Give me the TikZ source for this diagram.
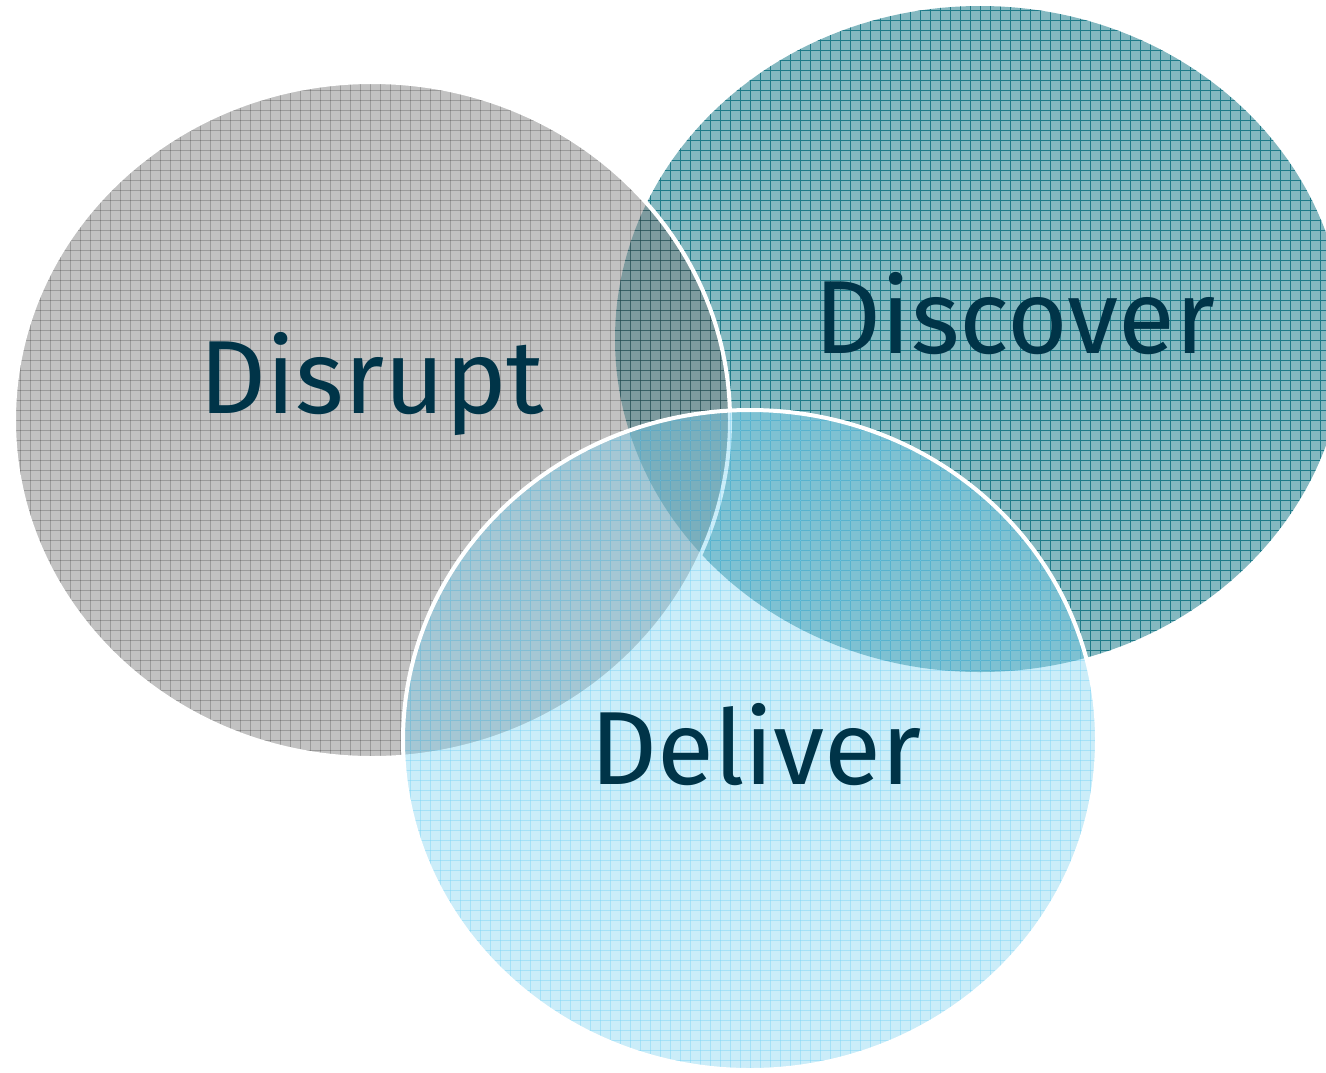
\documentclass[tikz,border=0pt]{standalone}
\usepackage{fontspec}
\setmainfont{Fira Sans}
\definecolor{discoverfill}{RGB}{132,184,192}
\definecolor{discoverline}{RGB}{30,122,136}
\definecolor{disruptfill}{RGB}{120,120,120}
\definecolor{deliverfill}{RGB}{118,208,240}
\definecolor{deliverline}{RGB}{120,210,245}
\definecolor{labelnavy}{RGB}{0,52,72}

\begin{document}
\begin{tikzpicture}[x=0.5pt, y=-0.5pt,
        lbl/.style={text=labelnavy, font=\fontsize{52}{62}\selectfont, anchor=base, inner sep=0pt}]

    \useasboundingbox (0,0) rectangle (1326,1072);
    \clip (0,0) rectangle (1326,1072);

    \coordinate (Dis) at (980,339);
    \coordinate (Dsr) at (372,420);
    \coordinate (Del) at (750,740);

    \fill[discoverfill] (Dis) ellipse [x radius=365, y radius=333];
    \begin{scope}
        \clip (Dis) ellipse [x radius=365, y radius=333];
        \foreach \gx in {610,620,...,1350} \draw[discoverline, line width=0.35pt] (\gx,0) -- (\gx,680);
        \foreach \gy in {0,10,...,680} \draw[discoverline, line width=0.35pt] (610,\gy) -- (1350,\gy);
    \end{scope}

    \fill[disruptfill, fill opacity=0.45] (Dsr) ellipse [x radius=358, y radius=338];
    \begin{scope}
        \clip (Dsr) ellipse [x radius=358, y radius=338];
        \foreach \gx in {10,20,...,740} \draw[black, draw opacity=0.2, line width=0.4pt] (\gx,80) -- (\gx,760);
        \foreach \gy in {80,90,...,760} \draw[black, draw opacity=0.2, line width=0.4pt] (10,\gy) -- (740,\gy);
    \end{scope}
    \draw[white, line width=2pt] (Dsr) ellipse [x radius=358, y radius=338];

    \fill[deliverfill, fill opacity=0.38] (Del) ellipse [x radius=347, y radius=330];
    \begin{scope}
        \clip (Del) ellipse [x radius=347, y radius=330];
        \foreach \gx in {400,410,...,1100} \draw[deliverline, draw opacity=0.45, line width=0.4pt] (\gx,405) -- (\gx,1072);
        \foreach \gy in {410,420,...,1070} \draw[deliverline, draw opacity=0.45, line width=0.4pt] (400,\gy) -- (1100,\gy);
    \end{scope}
    \draw[white, line width=2pt] (Del) ellipse [x radius=347, y radius=330];

    \node[lbl] (disrupt) at (372,413) {Disrupt};
    \node[lbl] (discover) at (1015,353) {Discover};
    \node[lbl] (deliver) at (756,784) {Deliver};

\end{tikzpicture}
\end{document}
